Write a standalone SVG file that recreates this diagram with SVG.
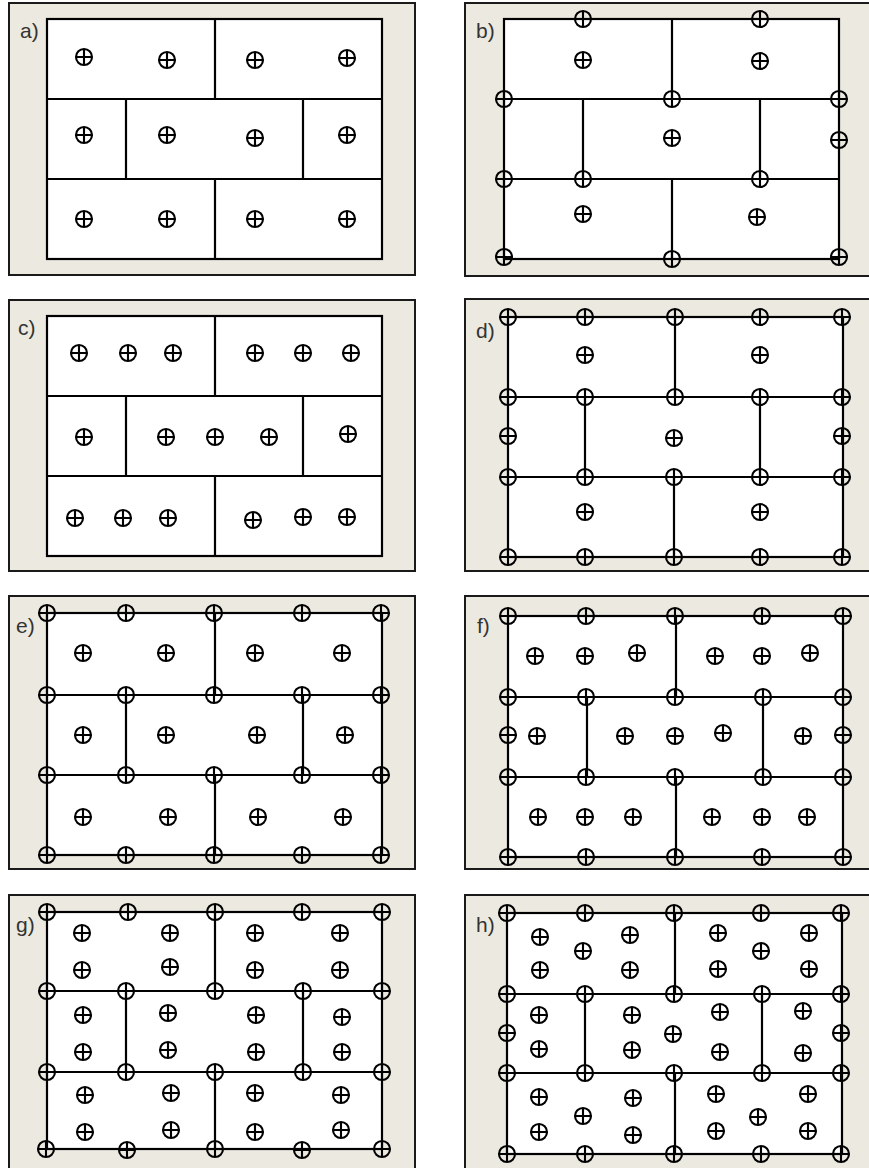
<svg xmlns="http://www.w3.org/2000/svg" xmlns:xlink="http://www.w3.org/1999/xlink" width="869" height="1168" viewBox="0 0 869 1168">
<style>
.frame{fill:#ECE9E0;stroke:#1a1a1a;stroke-width:2}
.plan{fill:#fff;stroke:#000;stroke-width:2.2}
.ln{stroke:#000;stroke-width:2.2;fill:none}
.lbl{font-family:"Liberation Sans Narrow","Liberation Sans",Arial,sans-serif;font-size:21px;fill:#333}
.mk circle,.mk path{fill:none;stroke:#000;stroke-width:2.1}
</style>
<defs>
<g id="m" class="mk"><circle r="8"/><path d="M-8 0H8M0 -8V8"/></g>
</defs>
<rect width="869" height="1168" fill="#fff"/>

<g id="panel-a">
<rect class="frame" x="9" y="3" width="406" height="272"/>
<text class="lbl" x="20" y="38">a)</text>
<rect class="plan" x="47" y="19" width="335" height="240"/>
<path class="ln" d="M47 99H382M47 179H382M215 19V99M126 99V179M303 99V179M215 179V259"/>
<use href="#m" x="84" y="57"/><use href="#m" x="167" y="60"/><use href="#m" x="255" y="60"/><use href="#m" x="347" y="58"/>
<use href="#m" x="84" y="135"/><use href="#m" x="167" y="135"/><use href="#m" x="255" y="138"/><use href="#m" x="347" y="135"/>
<use href="#m" x="84" y="219"/><use href="#m" x="167" y="219"/><use href="#m" x="255" y="219"/><use href="#m" x="347" y="219"/>
</g>

<g id="panel-b">
<rect class="frame" x="465" y="3" width="410" height="273"/>
<text class="lbl" x="476" y="38">b)</text>
<rect class="plan" x="504" y="19" width="335" height="240"/>
<path class="ln" d="M504 99H839M504 179H839M672 19V99M583 99V179M760 99V179M672 179V259"/>
<use href="#m" x="583" y="19"/><use href="#m" x="760" y="19"/>
<use href="#m" x="583" y="60"/><use href="#m" x="760" y="61"/>
<use href="#m" x="504" y="99"/><use href="#m" x="672" y="99"/><use href="#m" x="839" y="99"/>
<use href="#m" x="672" y="138"/><use href="#m" x="839" y="140"/>
<use href="#m" x="504" y="179"/><use href="#m" x="583" y="179"/><use href="#m" x="760" y="179"/>
<use href="#m" x="583" y="214"/><use href="#m" x="757" y="217"/>
<use href="#m" x="504" y="257"/><use href="#m" x="672" y="259"/><use href="#m" x="839" y="257"/>
</g>

<g id="panel-c">
<rect class="frame" x="9" y="300" width="406" height="271"/>
<text class="lbl" x="18" y="335">c)</text>
<rect class="plan" x="47" y="316" width="335" height="240"/>
<path class="ln" d="M47 396H382M47 476H382M215 316V396M126 396V476M303 396V476M215 476V556"/>
<use href="#m" x="79" y="353"/><use href="#m" x="128" y="353"/><use href="#m" x="173" y="353"/>
<use href="#m" x="255" y="353"/><use href="#m" x="303" y="353"/><use href="#m" x="351" y="353"/>
<use href="#m" x="84" y="437"/><use href="#m" x="166" y="437"/><use href="#m" x="215" y="437"/><use href="#m" x="269" y="437"/><use href="#m" x="348" y="434"/>
<use href="#m" x="75" y="518"/><use href="#m" x="123" y="518"/><use href="#m" x="168" y="518"/>
<use href="#m" x="253" y="520"/><use href="#m" x="303" y="517"/><use href="#m" x="347" y="517"/>
</g>

<g id="panel-d">
<rect class="frame" x="465" y="299" width="410" height="272"/>
<text class="lbl" x="476" y="338">d)</text>
<rect class="plan" x="508" y="317" width="335" height="240"/>
<path class="ln" d="M508 397H843M508 477H843M675 317V397M585 397V477M760 397V477M674 477V557"/>
<use href="#m" x="508" y="317"/><use href="#m" x="585" y="317"/><use href="#m" x="675" y="317"/><use href="#m" x="760" y="317"/><use href="#m" x="842" y="317"/>
<use href="#m" x="585" y="355"/><use href="#m" x="760" y="355"/>
<use href="#m" x="508" y="397"/><use href="#m" x="585" y="397"/><use href="#m" x="675" y="397"/><use href="#m" x="760" y="397"/><use href="#m" x="842" y="397"/>
<use href="#m" x="508" y="436"/><use href="#m" x="674" y="438"/><use href="#m" x="842" y="436"/>
<use href="#m" x="508" y="477"/><use href="#m" x="585" y="477"/><use href="#m" x="674" y="477"/><use href="#m" x="760" y="477"/><use href="#m" x="842" y="477"/>
<use href="#m" x="585" y="512"/><use href="#m" x="760" y="512"/>
<use href="#m" x="508" y="557"/><use href="#m" x="585" y="557"/><use href="#m" x="674" y="557"/><use href="#m" x="760" y="557"/><use href="#m" x="842" y="557"/>
</g>

<g id="panel-e">
<rect class="frame" x="9" y="596" width="406" height="273"/>
<text class="lbl" x="16" y="633">e)</text>
<rect class="plan" x="47" y="613" width="335" height="242"/>
<path class="ln" d="M47 695H382M47 775H382M215 613V695M126 695V775M303 695V775M215 775V855"/>
<use href="#m" x="47" y="613"/><use href="#m" x="126" y="613"/><use href="#m" x="214" y="613"/><use href="#m" x="302" y="613"/><use href="#m" x="381" y="613"/>
<use href="#m" x="83" y="653"/><use href="#m" x="166" y="653"/><use href="#m" x="255" y="653"/><use href="#m" x="342" y="653"/>
<use href="#m" x="47" y="695"/><use href="#m" x="126" y="695"/><use href="#m" x="214" y="695"/><use href="#m" x="302" y="695"/><use href="#m" x="381" y="695"/>
<use href="#m" x="83" y="735"/><use href="#m" x="166" y="735"/><use href="#m" x="257" y="735"/><use href="#m" x="345" y="735"/>
<use href="#m" x="47" y="775"/><use href="#m" x="126" y="775"/><use href="#m" x="214" y="775"/><use href="#m" x="302" y="775"/><use href="#m" x="381" y="775"/>
<use href="#m" x="83" y="817"/><use href="#m" x="168" y="817"/><use href="#m" x="258" y="817"/><use href="#m" x="343" y="817"/>
<use href="#m" x="47" y="855"/><use href="#m" x="126" y="855"/><use href="#m" x="214" y="855"/><use href="#m" x="302" y="855"/><use href="#m" x="381" y="855"/>
</g>

<g id="panel-f">
<rect class="frame" x="465" y="596" width="410" height="273"/>
<text class="lbl" x="477" y="633">f)</text>
<rect class="plan" x="508" y="616" width="335" height="241"/>
<path class="ln" d="M508 697H843M508 777H843M676 616V697M587 697V777M763 697V777M676 777V857"/>
<use href="#m" x="508" y="616"/><use href="#m" x="586" y="616"/><use href="#m" x="675" y="616"/><use href="#m" x="762" y="616"/><use href="#m" x="843" y="616"/>
<use href="#m" x="535" y="656"/><use href="#m" x="585" y="656"/><use href="#m" x="637" y="653"/><use href="#m" x="715" y="656"/><use href="#m" x="762" y="656"/><use href="#m" x="810" y="653"/>
<use href="#m" x="508" y="697"/><use href="#m" x="586" y="697"/><use href="#m" x="675" y="697"/><use href="#m" x="763" y="697"/><use href="#m" x="843" y="697"/>
<use href="#m" x="508" y="735"/><use href="#m" x="537" y="736"/><use href="#m" x="625" y="736"/><use href="#m" x="675" y="736"/><use href="#m" x="723" y="733"/><use href="#m" x="803" y="736"/><use href="#m" x="843" y="735"/>
<use href="#m" x="508" y="777"/><use href="#m" x="586" y="777"/><use href="#m" x="675" y="777"/><use href="#m" x="763" y="777"/><use href="#m" x="843" y="777"/>
<use href="#m" x="538" y="817"/><use href="#m" x="585" y="817"/><use href="#m" x="633" y="817"/><use href="#m" x="712" y="817"/><use href="#m" x="762" y="817"/><use href="#m" x="807" y="817"/>
<use href="#m" x="508" y="857"/><use href="#m" x="586" y="857"/><use href="#m" x="675" y="857"/><use href="#m" x="762" y="857"/><use href="#m" x="843" y="857"/>
</g>

<g id="panel-g">
<rect class="frame" x="9" y="895" width="406" height="276"/>
<text class="lbl" x="16" y="932">g)</text>
<rect class="plan" x="47" y="912" width="335" height="237"/>
<path class="ln" d="M47 991H382M47 1072H382M215 912V991M126 991V1072M303 991V1072M215 1072V1149"/>
<use href="#m" x="47" y="912"/><use href="#m" x="128" y="912"/><use href="#m" x="215" y="912"/><use href="#m" x="302" y="912"/><use href="#m" x="382" y="912"/>
<use href="#m" x="82" y="933"/><use href="#m" x="82" y="970"/><use href="#m" x="170" y="933"/><use href="#m" x="170" y="967"/>
<use href="#m" x="255" y="933"/><use href="#m" x="255" y="970"/><use href="#m" x="340" y="933"/><use href="#m" x="340" y="970"/>
<use href="#m" x="47" y="991"/><use href="#m" x="126" y="991"/><use href="#m" x="215" y="991"/><use href="#m" x="303" y="991"/><use href="#m" x="382" y="991"/>
<use href="#m" x="83" y="1015"/><use href="#m" x="83" y="1052"/><use href="#m" x="168" y="1013"/><use href="#m" x="168" y="1050"/>
<use href="#m" x="256" y="1015"/><use href="#m" x="256" y="1052"/><use href="#m" x="342" y="1017"/><use href="#m" x="342" y="1052"/>
<use href="#m" x="47" y="1072"/><use href="#m" x="126" y="1072"/><use href="#m" x="215" y="1072"/><use href="#m" x="303" y="1072"/><use href="#m" x="382" y="1072"/>
<use href="#m" x="85" y="1095"/><use href="#m" x="85" y="1132"/><use href="#m" x="171" y="1093"/><use href="#m" x="171" y="1130"/>
<use href="#m" x="255" y="1093"/><use href="#m" x="255" y="1132"/><use href="#m" x="341" y="1095"/><use href="#m" x="341" y="1130"/>
<use href="#m" x="46" y="1149"/><use href="#m" x="127" y="1150"/><use href="#m" x="215" y="1149"/><use href="#m" x="302" y="1150"/><use href="#m" x="382" y="1149"/>
</g>

<g id="panel-h">
<rect class="frame" x="465" y="895" width="410" height="276"/>
<text class="lbl" x="476" y="932">h)</text>
<rect class="plan" x="507" y="913" width="335" height="241"/>
<path class="ln" d="M507 994H842M507 1073H842M675 913V994M585 994V1073M762 994V1073M675 1073V1154"/>
<use href="#m" x="507" y="913"/><use href="#m" x="585" y="913"/><use href="#m" x="674" y="913"/><use href="#m" x="761" y="913"/><use href="#m" x="841" y="913"/>
<use href="#m" x="540" y="937"/><use href="#m" x="540" y="970"/><use href="#m" x="583" y="951"/><use href="#m" x="630" y="935"/><use href="#m" x="630" y="970"/>
<use href="#m" x="718" y="933"/><use href="#m" x="718" y="969"/><use href="#m" x="761" y="951"/><use href="#m" x="809" y="933"/><use href="#m" x="809" y="969"/>
<use href="#m" x="507" y="994"/><use href="#m" x="585" y="994"/><use href="#m" x="674" y="994"/><use href="#m" x="762" y="994"/><use href="#m" x="841" y="994"/>
<use href="#m" x="507" y="1033"/><use href="#m" x="841" y="1033"/>
<use href="#m" x="539" y="1015"/><use href="#m" x="539" y="1049"/><use href="#m" x="632" y="1015"/><use href="#m" x="632" y="1050"/><use href="#m" x="673" y="1034"/>
<use href="#m" x="720" y="1012"/><use href="#m" x="720" y="1052"/><use href="#m" x="803" y="1011"/><use href="#m" x="803" y="1053"/>
<use href="#m" x="507" y="1073"/><use href="#m" x="585" y="1073"/><use href="#m" x="674" y="1073"/><use href="#m" x="762" y="1073"/><use href="#m" x="841" y="1073"/>
<use href="#m" x="539" y="1097"/><use href="#m" x="539" y="1132"/><use href="#m" x="583" y="1116"/><use href="#m" x="633" y="1098"/><use href="#m" x="633" y="1135"/>
<use href="#m" x="716" y="1094"/><use href="#m" x="716" y="1131"/><use href="#m" x="758" y="1117"/><use href="#m" x="808" y="1094"/><use href="#m" x="808" y="1131"/>
<use href="#m" x="507" y="1154"/><use href="#m" x="585" y="1154"/><use href="#m" x="674" y="1154"/><use href="#m" x="761" y="1154"/><use href="#m" x="841" y="1154"/>
</g>
</svg>
